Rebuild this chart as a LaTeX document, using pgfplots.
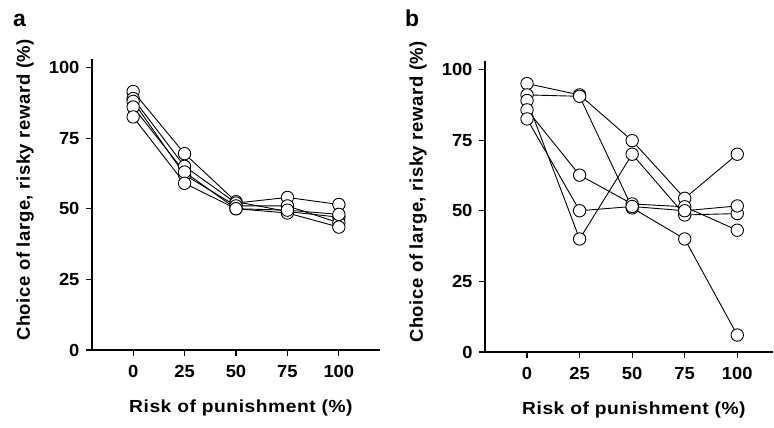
\documentclass[border=0pt]{standalone}
\usepackage{fontspec}
\setmainfont{Liberation Sans}
\newfontfamily\tickfont[FakeStretch=1.05]{Liberation Sans}
\newfontfamily\xlabfont[FakeStretch=1.1, LetterSpace=3]{Liberation Sans}
\newfontfamily\ylabfont[LetterSpace=3]{Liberation Sans}
\usepackage{pgfplots}
\usepackage{pgfplotstable}
\pgfplotsset{compat=1.18}

% panel a: one column per subject
\pgfplotstableread{
x  s1   s2   s3   s4   s5
0  91.5 89   88   86   82.5
25 69.5 65   62   63   59
50 52.5 52   51   50   50
75 49   54   51   48.5 49.5
100 47  51.5 45   43.5 48
}\dataA
% panel b
\pgfplotstableread{
x  s1   s2   s3   s4   s5
0  95   91   89   85.7 82.5
25 91   90.5 40   62.6 50
50 74.8 51   70   52.4 51.5
75 54.4 40   48.5 51.4 50
100 70  6    49   43.1 51.7
}\dataB

\pgfplotsset{
  panel/.style={
    scale only axis, width=288pt, height=291pt,
    axis lines=left, axis line style={-, line width=1.4pt},
    xmin=-20, ymin=0, ymax=103,
    xtick={0,25,50,75,100}, ytick={0,25,50,75,100},
    tick align=outside, major tick length=6pt,
    tick style={line width=1.2pt, black},
    /pgf/number format/assume math mode=true,
    ticklabel style={font=\tickfont\bfseries\fontsize{17.5}{17.5}\selectfont},
    xticklabel style={yshift=-6pt},
    yticklabel style={xshift=-3pt},
    xlabel={Risk of punishment (\%)},
    ylabel={Choice of large, risky reward (\%)},
    xlabel style={font=\xlabfont\bfseries\fontsize{17.5}{17.5}\selectfont,
      at={(axis description cs:0.517,-0.2)}, anchor=center},
    ylabel style={font=\ylabfont\bfseries\fontsize{18.5}{18.5}\selectfont,
      at={(axis description cs:-0.232,0.55)}, anchor=center},
    clip=false,
  },
  ln/.style={black, line width=0.9pt, no markers},
  mk/.style={only marks, mark=*, mark size=6.2pt,
    mark options={fill=white, draw=black, line width=0.9pt}},
}

\begin{document}
\begin{tikzpicture}
\path[use as bounding box] (0,0) rectangle (774pt,428pt);
\node[anchor=base west, font=\bfseries\fontsize{23}{23}\selectfont, inner sep=0] at (13pt,401pt) {a};
\node[anchor=base west, font=\bfseries\fontsize{23}{23}\selectfont, inner sep=0] at (405pt,401pt) {b};

\begin{axis}[panel, at={(92pt,78pt)}, anchor=south west, xmax=120]
\foreach \s in {s1,s2,s3,s4,s5} {\addplot[ln] table[x=x, y=\s] {\dataA};}
\foreach \s in {s1,s2,s3,s4,s5} {\addplot[mk] table[x=x, y=\s] {\dataA};}
\end{axis}

\begin{axis}[panel, at={(485pt,76pt)}, anchor=south west, xmax=117]
\foreach \s in {s1,s2,s3,s4,s5} {\addplot[ln] table[x=x, y=\s] {\dataB};}
\foreach \s in {s1,s2,s3,s4,s5} {\addplot[mk] table[x=x, y=\s] {\dataB};}
\end{axis}
\end{tikzpicture}
\end{document}
